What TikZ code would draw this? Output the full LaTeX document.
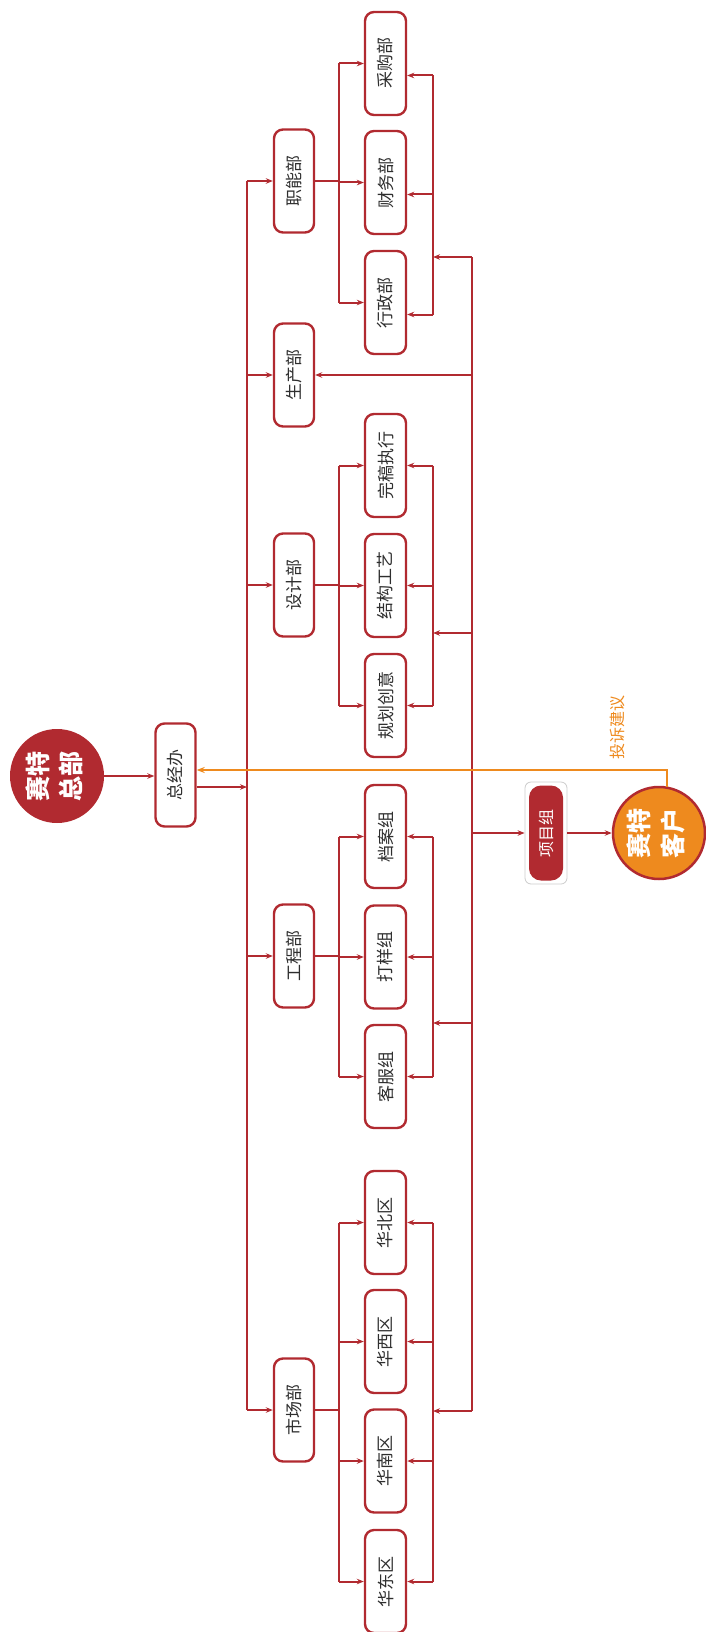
\documentclass[tikz,border=0pt]{standalone}
\usepackage{fontspec}
\usepackage{graphicx}
\newfontfamily\cjk{Noto Sans CJK SC}
\usetikzlibrary{arrows.meta,calc}
\definecolor{cred}{HTML}{B12A30}
\definecolor{corg}{HTML}{EE8A1E}
\definecolor{ctxt}{HTML}{2E2E2E}
\newcommand\rt[1]{\rotatebox{90}{#1}}
\begin{document}
\begin{tikzpicture}[x=1pt,y=-1pt,
  box/.style={draw=cred, line width=2.4pt, fill=white, rounded corners=9pt,
    minimum width=40pt, minimum height=103pt, inner sep=0pt,
    font=\cjk\fontsize{17}{17}\selectfont, text=ctxt},
  sub/.style={box, minimum width=41pt},
  ln/.style={draw=cred, line width=2pt},
  arr/.style={ln, -{Stealth[length=7pt,width=5.5pt]}},
  oarr/.style={draw=corg, line width=2pt, -{Stealth[length=8pt,width=6pt]}}]
\useasboundingbox (0,0) rectangle (705,1632);

% guide coordinates
\coordinate (L) at (247,0);
\coordinate (B) at (339,0);
\coordinate (F) at (433,0);
\coordinate (R) at (472,0);
\coordinate (j1) at (472,257);
\coordinate (j2) at (472,633);
\coordinate (j3) at (472,833);
\coordinate (j4) at (472,1023);
\coordinate (j5) at (472,1411);

% HQ and GM office
\node[circle, fill=cred, minimum size=94pt, inner sep=0pt, text=white,
  font=\cjk\bfseries\fontsize{25}{33}\selectfont] (hq) at (57,776)
  {\rt{\begin{tabular}{@{}c@{}}赛特\\总部\end{tabular}}};
\node[box] (zjb) at (175.5,775) {\rt{总经办}};

% departments
\node[box] (zhineng) at (294,181) {\rt{职能部}};
\node[box] (shengchan) at (294,375) {\rt{生产部}};
\node[box] (sheji) at (294,585) {\rt{设计部}};
\node[box] (gongcheng) at (294,956) {\rt{工程部}};
\node[box] (shichang) at (294,1410) {\rt{市场部}};

% sub units
\node[sub] (caigou) at (385.5,63.5) {\rt{采购部}};
\node[sub] (caiwu) at (385.5,182.5) {\rt{财务部}};
\node[sub] (xingzheng) at (385.5,302.5) {\rt{行政部}};
\node[sub] (wangao) at (385.5,465.5) {\rt{完稿执行}};
\node[sub] (jiegou) at (385.5,585.5) {\rt{结构工艺}};
\node[sub] (guihua) at (385.5,705.5) {\rt{规划创意}};
\node[sub] (dangan) at (385.5,836.5) {\rt{档案组}};
\node[sub] (dayang) at (385.5,957) {\rt{打样组}};
\node[sub] (kefu) at (385.5,1076.5) {\rt{客服组}};
\node[sub] (huabei) at (385.5,1222.5) {\rt{华北区}};
\node[sub] (huaxi) at (385.5,1341.5) {\rt{华西区}};
\node[sub] (huanan) at (385.5,1461) {\rt{华南区}};
\node[sub] (huadong) at (385.5,1581.5) {\rt{华东区}};

% project group and customer
\node[draw=black!20, line width=0.8pt, fill=white, rounded corners=6pt,
  minimum width=42pt, minimum height=102pt, inner sep=0pt] (xmz) at (546,833) {};
\node[fill=cred, rounded corners=12pt, minimum width=34pt, minimum height=95pt,
  inner sep=0pt, text=white, font=\cjk\fontsize{16}{16}\selectfont] (xmzin) at (546,833) {\rt{项目组}};
\node[circle, draw=cred, line width=2.5pt, fill=corg, minimum size=92pt, inner sep=0pt,
  text=white, font=\cjk\bfseries\fontsize{25}{34}\selectfont] (kh) at (659,833)
  {\rt{\begin{tabular}{@{}c@{}}赛特\\客户\end{tabular}}};

% HQ -> GM office -> left trunk
\draw[arr] (hq.east) -- (hq.east -| zjb.west);
\coordinate (zo) at ([yshift=-12pt]zjb.east);
\draw[arr] (zo) -- (L |- zo);

% left trunk to departments
\draw[ln] (L |- zhineng) -- (L |- shichang);
\foreach \d in {zhineng,shengchan,sheji,gongcheng,shichang}
  \draw[arr] (L |- \d) -- (\d.west);

% department branches
\foreach \d/\a/\b in {zhineng/caigou/xingzheng, sheji/wangao/guihua,
                      gongcheng/dangan/kefu, shichang/huabei/huadong}{
  \draw[ln] (\d.east) -- (B |- \d);
  \draw[ln] (B |- \a) -- (B |- \b);
}
\foreach \s in {caigou,caiwu,xingzheng,wangao,jiegou,guihua,dangan,dayang,kefu,huabei,huaxi,huanan,huadong}
  \draw[arr] (B |- \s) -- (\s.west);

% feedback lines from right
\draw[ln] ($(caigou.east -| F)+(0,12)$) -- ($(xingzheng.east -| F)+(0,12)$);
\foreach \s in {caigou,caiwu,xingzheng}
  \draw[arr] ($(\s.east -| F)+(0,12)$) -- ($(\s.east)+(0,12)$);
\foreach \a/\b in {wangao/guihua, dangan/kefu, huabei/huadong}
  \draw[ln] (F |- \a) -- (F |- \b);
\foreach \s in {wangao,jiegou,guihua,dangan,dayang,kefu,huabei,huaxi,huanan,huadong}
  \draw[arr] (F |- \s) -- (\s.east);

% right trunk
\draw[ln] (j1) -- (j5);
\foreach \j in {j1,j2,j4,j5}
  \draw[arr] (\j) -- (F |- \j);
\draw[arr] (R |- shengchan) -- (shengchan.east);
\draw[arr] (j3) -- (xmz.west);
\draw[arr] (xmz.east) -- (kh.west);

% complaint feedback
\draw[oarr] ($(kh.north)+(8,1)$) |- ($(zjb.east)+(0,-5)$);
\node[text=corg, font=\cjk\fontsize{16}{16}\selectfont, inner sep=0pt] (lbl) at (617,727) {\rt{投诉建议}};
\end{tikzpicture}
\end{document}
